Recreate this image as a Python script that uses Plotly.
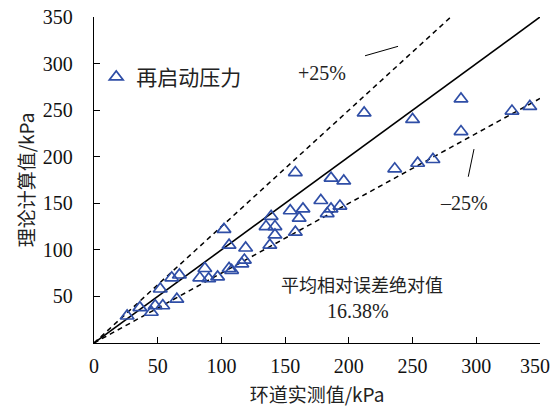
import plotly.graph_objects as go

# measured (环道实测值, kPa) vs theoretical (理论计算值, kPa)
measured = [26, 36, 45, 48, 52, 54, 61, 67, 65,
            83, 87, 90, 97,
            102, 106, 106, 108, 116, 118, 119,
            135, 139, 142, 142, 138,
            154, 158, 161, 164, 158,
            178, 183, 186, 186, 193, 196,
            212, 236, 250, 254, 266, 288, 288, 328, 342]
theory = [29, 38, 33, 40, 58, 40, 70, 73, 47,
          70, 80, 69, 71,
          122, 105, 80, 78, 85, 89, 102,
          125, 136, 125, 116, 105,
          142, 183, 134, 144, 119,
          153, 139, 144, 177, 147, 174,
          247, 187, 240, 193, 197, 262, 227, 249, 254]

ref_x = [0, 350]
ratio_mid = 1.0
ratio_hi = 1.25
ratio_lo = 0.75
axis_max = 350
x_ticks = [0, 50, 100, 150, 200, 250, 300, 350]
x_tick_labels = ["0", "50", "100", "150", "200", "250", "300", "350\u2002"]
y_ticks = [50, 100, 150, 200, 250, 300, 350]

blue = "#2f4ea6"
serif = "Liberation Serif, Times New Roman, serif"
cjk = "Noto Sans CJK SC"

fig = go.Figure()

# reference lines
fig.add_trace(go.Scatter(x=ref_x, y=[v * ratio_mid for v in ref_x], mode="lines",
                         line=dict(color="black", width=1.6), showlegend=False, hoverinfo="skip"))
hi_x = [0, axis_max / ratio_hi]
fig.add_trace(go.Scatter(x=hi_x, y=[v * ratio_hi for v in hi_x], mode="lines",
                         line=dict(color="black", width=1.5, dash="5px,4px"), showlegend=False, hoverinfo="skip"))
fig.add_trace(go.Scatter(x=ref_x, y=[v * ratio_lo for v in ref_x], mode="lines",
                         line=dict(color="black", width=1.5, dash="5px,4px"), showlegend=False, hoverinfo="skip"))

fig.add_trace(go.Scatter(x=measured, y=theory, mode="markers", name="再启动压力",
                         marker=dict(symbol="triangle-up-open", size=12, color=blue,
                                     line=dict(color=blue, width=1.7))))

axis_common = dict(range=[0, axis_max], showline=True, linecolor="black", linewidth=1.3,
                   ticks="inside", ticklen=6, tickcolor="black", tickwidth=1.2,
                   showgrid=False, zeroline=False, ticklabeloverflow="allow",
                   tickfont=dict(family=serif, size=20, color="#111"))

fig.update_xaxes(tickvals=x_ticks, ticktext=x_tick_labels, ticklabelstandoff=5,
                 title=dict(text="环道实测值/kPa", font=dict(family=cjk, size=19, color="#222"), standoff=22),
                 **axis_common)
fig.update_yaxes(tickvals=y_ticks, ticklabelstandoff=16,
                 title=dict(text="理论计算值/kPa", font=dict(family=cjk, size=19, color="#222"), standoff=3),
                 **axis_common)

ann_font = dict(family=serif, size=20, color="#222")
fig.add_annotation(x=179, y=290, xref="x", yref="y", text="+25%", showarrow=False, font=ann_font)
fig.add_annotation(x=290, y=150, xref="x", yref="y", text="\u201325%", showarrow=False, font=ann_font)
fig.add_annotation(x=210, y=63, xref="x", yref="y", text="平均相对误差绝对值", showarrow=False,
                   font=dict(family=cjk, size=18, color="#222"))
fig.add_annotation(x=207, y=34, xref="x", yref="y", text="16.38%", showarrow=False, font=ann_font)

fig.add_shape(type="line", xref="x", yref="y", x0=212.7, y0=308.4, x1=238.6, y1=318.5,
              line=dict(color="black", width=1))
fig.add_shape(type="line", xref="x", yref="y", x0=298.2, y0=208.2, x1=293.7, y1=178.5,
              line=dict(color="black", width=1))

fig.update_layout(
    width=552, height=407,
    margin=dict(l=94, r=12, t=17, b=64, autoexpand=False),
    paper_bgcolor="white", plot_bgcolor="white",
    legend=dict(x=0.005, y=0.815, xanchor="left", yanchor="middle",
                bgcolor="rgba(0,0,0,0)", font=dict(family=cjk, size=21, color="#222"),
                itemwidth=30, tracegroupgap=0),
)

# remove the page's default body margin so the figure sits at the window's top-left
fig.write_html("out.html", config={"displayModeBar": False},
               post_script="document.body.style.margin='0';document.body.style.overflow='hidden';")
